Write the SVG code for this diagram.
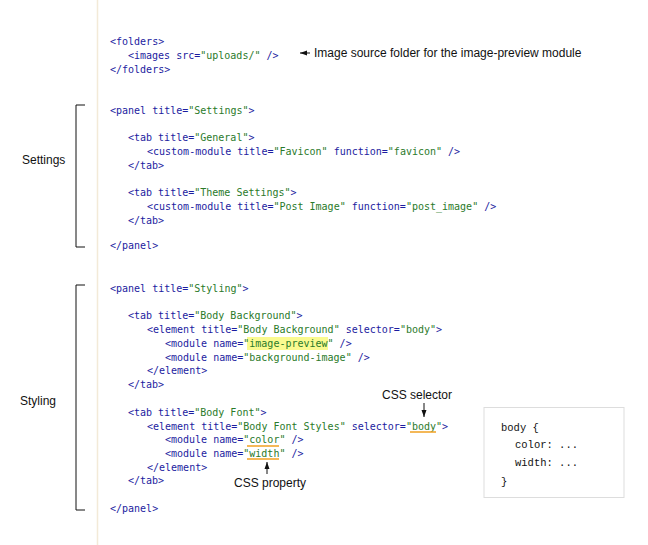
<svg xmlns="http://www.w3.org/2000/svg" width="648" height="545" viewBox="0 0 648 545">
<style>
.c{font-family:"DejaVu Sans Mono",monospace;font-size:10px;fill:#1c1ca0}
.v{fill:#2a7a2a}
.l{font-family:"Liberation Sans",Arial,sans-serif;font-size:12px;fill:#111}
.k{font-family:"Liberation Mono","Courier New",monospace;font-size:10.5px;fill:#111}
.b{fill:none;stroke:#111;stroke-width:1}
.u{stroke:#f0a020;stroke-width:1.5}
</style>
<defs><marker id="a" markerWidth="8" markerHeight="8" refX="7" refY="4" orient="auto" markerUnits="userSpaceOnUse"><path d="M0,1.5L7,4L0,6.5z" fill="#111"/></marker></defs>
<rect width="648" height="545" fill="#fff"/>
<line x1="97.5" y1="0" x2="97.5" y2="545" stroke="#f3ead8" stroke-width="1.5"/>
<rect x="247" y="337" width="81" height="13" fill="#fafa90"/>
<g id="code">
<text class="c" x="110" y="45">&lt;folders&gt;</text>
<text class="c" x="128" y="59">&lt;images src=<tspan class="v">"uploads/"</tspan> /&gt;</text>
<text class="c" x="110" y="73">&lt;/folders&gt;</text>
<text class="c" x="110" y="114">&lt;panel title=<tspan class="v">"Settings"</tspan>&gt;</text>
<text class="c" x="128" y="141">&lt;tab title=<tspan class="v">"General"</tspan>&gt;</text>
<text class="c" x="147" y="155">&lt;custom-module title=<tspan class="v">"Favicon"</tspan> function=<tspan class="v">"favicon"</tspan> /&gt;</text>
<text class="c" x="128" y="169">&lt;/tab&gt;</text>
<text class="c" x="128" y="196">&lt;tab title=<tspan class="v">"Theme Settings"</tspan>&gt;</text>
<text class="c" x="147" y="210">&lt;custom-module title=<tspan class="v">"Post Image"</tspan> function=<tspan class="v">"post_image"</tspan> /&gt;</text>
<text class="c" x="128" y="224">&lt;/tab&gt;</text>
<text class="c" x="110" y="249">&lt;/panel&gt;</text>
<text class="c" x="110" y="292">&lt;panel title=<tspan class="v">"Styling"</tspan>&gt;</text>
<text class="c" x="128" y="319">&lt;tab title=<tspan class="v">"Body Background"</tspan>&gt;</text>
<text class="c" x="147" y="333">&lt;element title=<tspan class="v">"Body Background"</tspan> selector=<tspan class="v">"body"</tspan>&gt;</text>
<text class="c" x="165" y="347">&lt;module name=<tspan class="v">"image-preview"</tspan> /&gt;</text>
<text class="c" x="165" y="361">&lt;module name=<tspan class="v">"background-image"</tspan> /&gt;</text>
<text class="c" x="147" y="374">&lt;/element&gt;</text>
<text class="c" x="128" y="388">&lt;/tab&gt;</text>
<text class="c" x="128" y="416">&lt;tab title=<tspan class="v">"Body Font"</tspan>&gt;</text>
<text class="c" x="147" y="430">&lt;element title=<tspan class="v">"Body Font Styles"</tspan> selector=<tspan class="v">"body"</tspan>&gt;</text>
<text class="c" x="165" y="443">&lt;module name=<tspan class="v">"color"</tspan> /&gt;</text>
<text class="c" x="165" y="457">&lt;module name=<tspan class="v">"width"</tspan> /&gt;</text>
<text class="c" x="147" y="471">&lt;/element&gt;</text>
<text class="c" x="128" y="484">&lt;/tab&gt;</text>
<text class="c" x="110" y="512">&lt;/panel&gt;</text>
</g>
<g id="underlines">
<line class="u" x1="247" y1="446" x2="279" y2="446"/>
<line class="u" x1="247" y1="459" x2="279" y2="459"/>
<line class="u" x1="410" y1="432" x2="436" y2="432"/>
</g>
<g id="brackets">
<path class="b" d="M85,105H76V247H85"/>
<path class="b" d="M85,285H76V510H85"/>
<text class="l" x="22" y="164">Settings</text>
<text class="l" x="20" y="405">Styling</text>
</g>
<g id="connectors">
<line class="b" x1="310" y1="53" x2="300" y2="53" marker-end="url(#a)"/>
<line class="b" x1="424" y1="403" x2="424" y2="417" marker-end="url(#a)"/>
<line class="b" x1="267" y1="474" x2="267" y2="462" marker-end="url(#a)"/>
</g>
<g id="labels">
<text class="l" x="314" y="57">Image source folder for the image-preview module</text>
<text class="l" x="417" y="399" text-anchor="middle">CSS selector</text>
<text class="l" x="270" y="487" text-anchor="middle">CSS property</text>
</g>
<g id="css">
<rect x="484" y="407.5" width="140" height="90" fill="#fff" stroke="#ddd"/>
<text class="k" x="501" y="431">body {</text>
<text class="k" x="515" y="448">color: ...</text>
<text class="k" x="515" y="466">width: ...</text>
<text class="k" x="501" y="485">}</text>
</g>
</svg>
